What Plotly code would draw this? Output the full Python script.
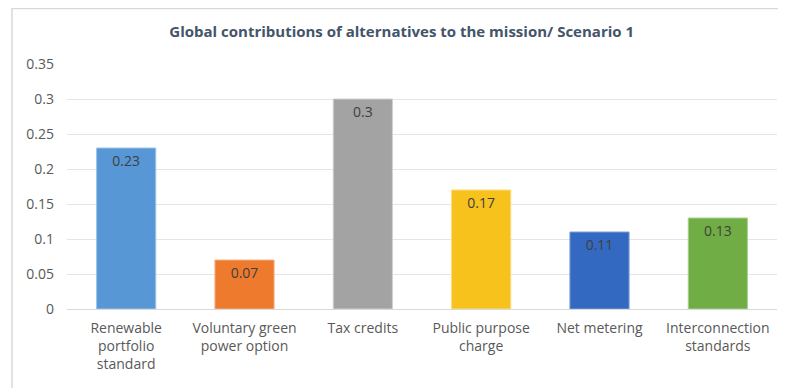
import plotly.graph_objects as go

categories = [
    "Renewable<br>portfolio<br>standard",
    "Voluntary green<br>power option",
    "Tax credits",
    "Public purpose<br>charge",
    "Net metering",
    "Interconnection<br>standards",
]
values = [0.23, 0.07, 0.3, 0.17, 0.11, 0.13]
bar_colors = ["#5797d6", "#ee7a2e", "#a3a3a3", "#f8c21c", "#3469c2", "#70ae45"]
edge_colors = ["#9cc3ea", "#f5b287", "#cfcfcf", "#fbdc80", "#7f9fd8", "#a9d08e"]
y_ticks = [0, 0.05, 0.1, 0.15, 0.2, 0.25, 0.3, 0.35]

fig = go.Figure()

fig.add_trace(
    go.Bar(
        x=categories,
        y=values,
        width=0.5,
        marker=dict(color=bar_colors, line=dict(color=edge_colors, width=1)),
        text=[str(v) for v in values],
        textposition="inside",
        insidetextanchor="end",
        textangle=0,
        textfont=dict(family="Open Sans", size=14, color="#404040"),
        hovertemplate="%{x}: %{y}<extra></extra>",
    )
)

# the page body adds an 8px margin, so the figure is sized and offset for it
fig.update_layout(
    width=778,
    height=380,
    title=dict(
        text="<b>Global contributions of alternatives to the mission/ Scenario 1</b>",
        x=0.506,
        xanchor="center",
        y=0.937,
        yanchor="middle",
        font=dict(family="Open Sans", size=15, color="#44546a"),
    ),
    plot_bgcolor="white",
    paper_bgcolor="white",
    margin=dict(l=59, r=9, t=56, b=79),
    showlegend=False,
    font=dict(family="Open Sans", size=14, color="#595959"),
    shapes=[
        dict(
            type="rect",
            xref="paper",
            yref="paper",
            x0=-0.0775,
            x1=1.05,
            y0=-0.5,
            y1=1.2265,
            line=dict(color="#d9d9d9", width=1.5),
            layer="below",
        )
    ],
)

fig.update_xaxes(
    showgrid=False,
    showline=True,
    linecolor="#d9d9d9",
    ticks="",
    ticklabelstandoff=6,
    automargin=False,
    tickfont=dict(size=14, color="#595959"),
)

fig.update_yaxes(
    range=[0, 0.35],
    tickvals=y_ticks,
    ticktext=[f"{t:g}" for t in y_ticks],
    showgrid=True,
    gridcolor="#e4e4ea",
    zeroline=False,
    ticks="",
    ticklabelstandoff=12,
    automargin=False,
    tickfont=dict(size=14, color="#595959"),
)

fig.write_html("out.html")
